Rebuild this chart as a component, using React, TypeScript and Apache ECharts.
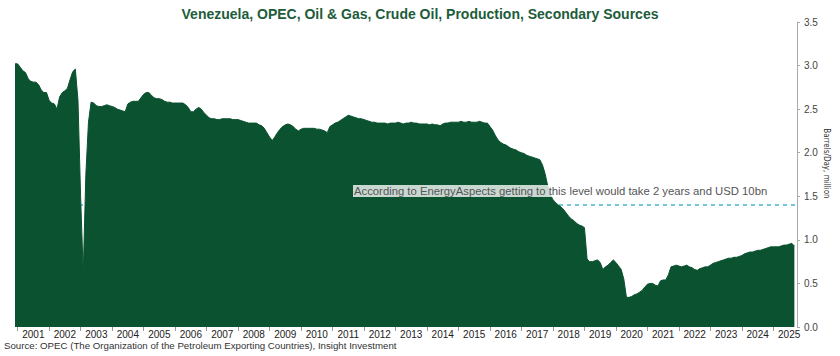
import React, { useEffect, useRef } from 'react';
import * as echarts from 'echarts';

const TITLE = 'Venezuela, OPEC, Oil & Gas, Crude Oil, Production, Secondary Sources';
const SOURCE = 'Source: OPEC (The Organization of the Petroleum Exporting Countries), Insight Investment';
const NOTE = 'According to EnergyAspects getting to this level would take 2 years and USD 10bn';
const Y_NAME = 'Barrels/Day, million';
const TARGET_LEVEL = 1.4;
const Y_MIN = 0;
const Y_MAX = 3.5;
const Y_STEP = 0.5;

// Monthly crude production, million barrels/day
const dec2000 = [3.02];
const y2001 = [3.02, 2.98, 2.94, 2.92, 2.85, 2.82, 2.81, 2.81, 2.78, 2.72, 2.69, 2.69];
const y2002 = [2.60, 2.57, 2.56, 2.50, 2.64, 2.69, 2.71, 2.74, 2.84, 2.93, 2.96, 2.60];
const y2003 = [1.50, 0.61, 1.75, 2.35, 2.58, 2.57, 2.54, 2.53, 2.53, 2.54, 2.55, 2.54];
const y2004 = [2.53, 2.52, 2.50, 2.49, 2.48, 2.47, 2.56, 2.58, 2.59, 2.59, 2.59, 2.63];
const y2005 = [2.67, 2.69, 2.69, 2.66, 2.63, 2.62, 2.62, 2.61, 2.59, 2.58, 2.58, 2.57];
const y2006 = [2.57, 2.57, 2.57, 2.57, 2.55, 2.52, 2.47, 2.47, 2.50, 2.52, 2.50, 2.46];
const y2007 = [2.43, 2.40, 2.39, 2.39, 2.38, 2.38, 2.39, 2.39, 2.39, 2.39, 2.38, 2.38];
const y2008 = [2.38, 2.37, 2.36, 2.35, 2.34, 2.34, 2.34, 2.34, 2.32, 2.31, 2.28, 2.23];
const y2009 = [2.18, 2.14, 2.18, 2.23, 2.27, 2.30, 2.32, 2.33, 2.32, 2.30, 2.27, 2.25];
const y2010 = [2.27, 2.28, 2.28, 2.28, 2.28, 2.28, 2.27, 2.27, 2.26, 2.25, 2.23, 2.30];
const y2011 = [2.32, 2.34, 2.35, 2.37, 2.39, 2.41, 2.43, 2.42, 2.41, 2.40, 2.39, 2.39];
const y2012 = [2.38, 2.37, 2.36, 2.35, 2.35, 2.34, 2.34, 2.34, 2.34, 2.33, 2.34, 2.34];
const y2013 = [2.34, 2.35, 2.34, 2.33, 2.34, 2.34, 2.35, 2.34, 2.34, 2.33, 2.33, 2.33];
const y2014 = [2.33, 2.32, 2.33, 2.32, 2.32, 2.31, 2.33, 2.34, 2.34, 2.35, 2.35, 2.35];
const y2015 = [2.35, 2.36, 2.35, 2.35, 2.36, 2.35, 2.35, 2.35, 2.36, 2.35, 2.34, 2.34];
const y2016 = [2.30, 2.26, 2.20, 2.15, 2.12, 2.10, 2.09, 2.07, 2.05, 2.04, 2.03, 2.01];
const y2017 = [2.00, 1.99, 1.97, 1.96, 1.95, 1.94, 1.93, 1.92, 1.86, 1.76, 1.62, 1.52];
const y2018 = [1.46, 1.43, 1.40, 1.38, 1.35, 1.31, 1.27, 1.24, 1.22, 1.19, 1.17, 1.16];
const y2019 = [1.14, 0.78, 0.75, 0.75, 0.76, 0.77, 0.74, 0.66, 0.69, 0.71, 0.74, 0.77];
const y2020 = [0.74, 0.70, 0.66, 0.55, 0.34, 0.34, 0.35, 0.37, 0.38, 0.40, 0.42, 0.46];
const y2021 = [0.49, 0.50, 0.50, 0.48, 0.47, 0.53, 0.54, 0.54, 0.60, 0.69, 0.70, 0.71];
const y2022 = [0.70, 0.69, 0.70, 0.71, 0.69, 0.68, 0.66, 0.65, 0.67, 0.68, 0.69, 0.69];
const y2023 = [0.71, 0.73, 0.74, 0.75, 0.76, 0.77, 0.78, 0.79, 0.79, 0.80, 0.80, 0.81];
const y2024 = [0.82, 0.84, 0.85, 0.86, 0.86, 0.87, 0.88, 0.88, 0.89, 0.90, 0.91, 0.92];
const y2025 = [0.92, 0.92, 0.92, 0.93, 0.94, 0.94, 0.95, 0.96, 0.93, null];

const production: (number | null)[] = [
  ...dec2000, ...y2001, ...y2002, ...y2003, ...y2004, ...y2005, ...y2006, ...y2007,
  ...y2008, ...y2009, ...y2010, ...y2011, ...y2012, ...y2013, ...y2014, ...y2015,
  ...y2016, ...y2017, ...y2018, ...y2019, ...y2020, ...y2021, ...y2022, ...y2023,
  ...y2024, ...y2025,
];

const START_YEAR = 2000;
const START_MONTH = 12;
const categories = production.map((_, i) => {
  const t = START_YEAR * 12 + (START_MONTH - 1) + i;
  const y = Math.floor(t / 12);
  const m = (t % 12) + 1;
  return `${y}-${String(m).padStart(2, '0')}`;
});

const GREEN = '#0a5230';
const FONT = '"Liberation Sans", Arial, sans-serif';

export default function App() {
  const ref = useRef<HTMLDivElement>(null);
  useEffect(() => {
    if (!ref.current) return;
    const chart = echarts.init(ref.current, undefined, { renderer: 'svg' });
    chart.setOption({
      animation: false,
      backgroundColor: '#ffffff',
      textStyle: { fontFamily: FONT },
      title: {
        text: TITLE,
        left: 'center',
        top: 2,
        textStyle: { fontFamily: FONT, fontWeight: 'bold', fontSize: 14, color: '#1d5c3a' },
      },
      grid: { left: 15, right: 43, top: 22, bottom: 29, outerBoundsMode: 'none', containLabel: false },
      xAxis: {
        type: 'category',
        data: categories,
        boundaryGap: false,
        axisLine: { show: false },
        axisTick: {
          show: true,
          interval: (_i: number, v: string) => v.endsWith('-01'),
          length: 4,
          lineStyle: { color: '#999' },
        },
        axisLabel: {
          interval: (_i: number, v: string) => v.endsWith('-07'),
          formatter: (v: string) => v.slice(0, 4),
          fontSize: 10,
          lineHeight: 10,
          color: '#222',
          margin: 2,
          fontFamily: FONT,
        },
        splitLine: { show: false },
      },
      yAxis: {
        type: 'value',
        position: 'right',
        min: Y_MIN,
        max: Y_MAX,
        interval: Y_STEP,
        axisLine: { show: true, lineStyle: { color: '#aaa' } },
        axisTick: { show: true, length: 3, lineStyle: { color: '#aaa' } },
        axisLabel: {
          formatter: (v: number) => v.toFixed(1),
          fontSize: 10,
          color: '#444',
          margin: 7,
          fontFamily: FONT,
        },
        splitLine: { show: false },
        name: Y_NAME,
        nameLocation: 'middle',
        nameRotate: -90,
        nameGap: 25,
        nameMoveOverlap: false,
        nameTextStyle: {
          fontSize: 8,
          lineHeight: 8,
          color: '#333',
          fontFamily: '"Liberation Sans Narrow", "DejaVu Sans Condensed", Arial, sans-serif',
          padding: [0, 22, 0, 0],
        },
      },
      series: [
        {
          type: 'line',
          data: production,
          symbol: 'none',
          showSymbol: false,
          z: 3,
          lineStyle: { width: 1, color: GREEN },
          areaStyle: { color: GREEN, opacity: 1 },
          markLine: {
            silent: true,
            symbol: 'none',
            z: 1,
            label: { show: false },
            lineStyle: { color: '#45b5d3', type: [4, 4], width: 1.5 },
            data: [{ yAxis: TARGET_LEVEL }],
          },
        },
      ],
      graphic: [
        {
          type: 'text',
          x: 353,
          y: 191,
          z: 10,
          style: {
            text: NOTE,
            fontSize: 11.3,
            fontFamily: FONT,
            fill: '#555',
            verticalAlign: 'middle',
            backgroundColor: 'rgba(255,255,255,0.78)',
            padding: [1, 1, 0, 1],
          },
        },
        {
          type: 'text',
          x: 4,
          y: 345,
          style: {
            text: SOURCE,
            fontSize: 9.7,
            lineHeight: 10,
            fontFamily: FONT,
            fill: '#333',
            verticalAlign: 'middle',
          },
        },
      ],
    });
    return () => chart.dispose();
  }, []);
  return (
    <div
      ref={ref}
      style={{ position: 'fixed', left: 0, top: 0, width: 840, height: 356 }}
    />
  );
}
